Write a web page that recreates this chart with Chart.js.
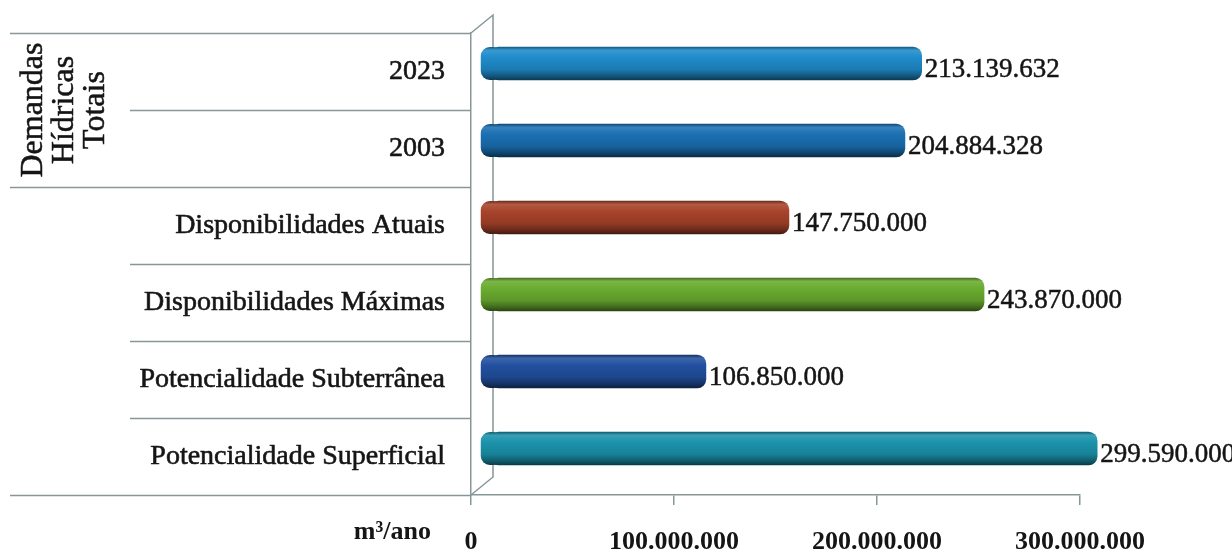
<!DOCTYPE html>
<html>
<head>
<meta charset="utf-8">
<script src="https://cdn.jsdelivr.net/npm/chart.js@4.4.1/dist/chart.umd.min.js"></script>
<style>
  html, body { margin: 0; padding: 0; background: #ffffff; }
  #wrap { width: 1232px; height: 555px; }
</style>
</head>
<body>
<div id="wrap"><canvas id="c" width="1232" height="555"></canvas></div>
<script>
// Categories (top to bottom) and volumes in m³/ano
const categories = ['2023', '2003', 'Disponibilidades Atuais', 'Disponibilidades Máximas', 'Potencialidade Subterrânea', 'Potencialidade Superficial'];
const volumes = [213139632, 204884328, 147750000, 243870000, 106850000, 299590000];
const barColors = ['#1f8ccb', '#1b70b3', '#a8432b', '#6aac30', '#22509f', '#1b93ab'];
const xTicks = [0, 100000000, 200000000, 300000000];
const groupTitle = ['Demandas', 'Hídricas', 'Totais'];
const groupSize = 2;          // first two categories belong to the group title
const unitLabel = 'm³/ano';

const SERIF = '"Liberation Serif", "Times New Roman", serif';
const LINE = '#879797';
const TEXT = '#151515';
const DEPTH_X = 22, DEPTH_Y = 18;   // depth of the 3D wall
const BAR_DX = 18, BAR_DY = -8;     // bars sit inside the depth
const BAR_T = 33;
const CAP = 9;                      // rounded cylinder end reaching toward the wall

const fmt = v => String(Math.round(v)).replace(/\B(?=(\d{3})+(?!\d))/g, '.');

function shade(hex, f) {
  const n = parseInt(hex.slice(1), 16);
  let r = n >> 16, g = (n >> 8) & 255, b = n & 255;
  if (f < 0) { r *= 1 + f; g *= 1 + f; b *= 1 + f; }
  else { r += (255 - r) * f; g += (255 - g) * f; b += (255 - b) * f; }
  return `rgb(${r | 0},${g | 0},${b | 0})`;
}

// vertical shading that gives the bars a cylindrical look
function cylinderFill(ctx) {
  const base = barColors[ctx.dataIndex];
  const chart = ctx.chart;
  if (ctx.type !== 'data' || !chart.chartArea || !chart.scales.y) return base;
  const yc = chart.scales.y.getPixelForValue(ctx.dataIndex);
  const g = chart.ctx.createLinearGradient(0, yc - BAR_T / 2, 0, yc + BAR_T / 2);
  g.addColorStop(0, shade(base, -0.35));
  g.addColorStop(0.1, shade(base, 0.12));
  g.addColorStop(0.32, base);
  g.addColorStop(0.68, shade(base, -0.12));
  g.addColorStop(0.88, shade(base, -0.38));
  g.addColorStop(1, shade(base, -0.6));
  return g;
}

const framePlugin = {
  id: 'frame',
  beforeDatasetsDraw(chart) {
    const { ctx, chartArea: a } = chart;
    ctx.save();
    ctx.strokeStyle = LINE;
    ctx.lineWidth = 1.5;
    // table lines beside the category labels
    const n = categories.length;
    const step = (a.bottom - a.top) / n;
    for (let i = 0; i <= n; i++) {
      const yy = Math.round(a.top + i * step) + 0.5;
      const full = i === 0 || i === groupSize || i === n;
      ctx.beginPath();
      ctx.moveTo(full ? 10 : 130, yy);
      ctx.lineTo(a.left, yy);
      ctx.stroke();
    }
    // back wall and its connections to the front axes
    const bx = a.left + DEPTH_X;
    ctx.beginPath();
    ctx.moveTo(a.left, a.top);
    ctx.lineTo(bx, a.top - DEPTH_Y);
    ctx.lineTo(bx, a.bottom - DEPTH_Y);
    ctx.lineTo(a.left, a.bottom);
    ctx.stroke();
    ctx.restore();

    ctx.save();
    ctx.translate(BAR_DX, BAR_DY);
    // rounded left ends of the cylinders, under each bar
    chart.getDatasetMeta(0).data.forEach(el => {
      ctx.fillStyle = el.options.backgroundColor;
      ctx.beginPath();
      ctx.roundRect(el.base - CAP, el.y - BAR_T / 2, CAP * 2 + 4, BAR_T, 9);
      ctx.fill();
    });
  },
  afterDatasetsDraw(chart) {
    const { ctx } = chart;
    ctx.restore();
    // value labels at the end of each bar
    const meta = chart.getDatasetMeta(0);
    ctx.save();
    ctx.fillStyle = TEXT;
    ctx.strokeStyle = TEXT;
    ctx.lineWidth = 0.5;
    ctx.font = '27px ' + SERIF;
    ctx.textAlign = 'left';
    ctx.textBaseline = 'middle';
    meta.data.forEach((el, i) => {
      const s = fmt(volumes[i]);
      ctx.fillText(s, el.x + BAR_DX + 3, el.y - 2);
      ctx.strokeText(s, el.x + BAR_DX + 3, el.y - 2);
    });
    ctx.restore();
  },
  afterDraw(chart) {
    const { ctx, chartArea: a, scales: { y } } = chart;
    ctx.save();
    ctx.fillStyle = TEXT;
    ctx.strokeStyle = TEXT;
    ctx.lineWidth = 0.5;
    // rotated group title
    const yc = (y.getPixelForValue(0) + y.getPixelForValue(groupSize - 1)) / 2;
    ctx.font = '32px ' + SERIF;
    ctx.textAlign = 'center';
    ctx.textBaseline = 'alphabetic';
    groupTitle.forEach((t, i) => {
      ctx.save();
      ctx.translate(42 + i * 31, yc);
      ctx.rotate(-Math.PI / 2);
      ctx.fillText(t, 0, 0);
      ctx.strokeText(t, 0, 0);
      ctx.restore();
    });
    // unit label
    ctx.font = 'bold 26px ' + SERIF;
    ctx.textAlign = 'right';
    ctx.textBaseline = 'middle';
    ctx.fillText(unitLabel, a.left - 40, a.bottom + 37);
    ctx.restore();
  }
};

new Chart(document.getElementById('c'), {
  type: 'bar',
  data: {
    labels: categories,
    datasets: [{
      data: volumes,
      backgroundColor: cylinderFill,
      borderWidth: 0,
      borderRadius: 9,
      borderSkipped: false,
      barThickness: BAR_T,
      clip: false
    }]
  },
  options: {
    indexAxis: 'y',
    responsive: false,
    animation: false,
    devicePixelRatio: 1,
    layout: { padding: { top: 33, right: 152, left: 0, bottom: 0 } },
    plugins: { legend: { display: false }, tooltip: { enabled: false } },
    scales: {
      x: {
        type: 'linear',
        min: 0,
        max: 300000000,
        afterBuildTicks: s => { s.ticks = xTicks.map(v => ({ value: v })); },
        afterFit: s => { s.height = 60; },
        ticks: {
          callback: v => fmt(v),
          font: { family: SERIF, size: 26, weight: 'bold' },
          color: TEXT,
          padding: 22,
          maxRotation: 0
        },
        grid: { drawOnChartArea: false, drawTicks: true, tickLength: 10, color: LINE, lineWidth: 1.5 },
        border: { display: true, color: LINE, width: 1.5 }
      },
      y: {
        type: 'category',
        afterFit: s => { s.width = 471; s.paddingTop = 0; s.paddingBottom = 0; },
        ticks: {
          font: { family: SERIF, size: 28 },
          color: TEXT,
          textStrokeColor: TEXT,
          textStrokeWidth: 0.6,
          padding: 18
        },
        grid: { display: false },
        border: { display: true, color: LINE, width: 1.5 }
      }
    }
  },
  plugins: [framePlugin]
});
</script>
</body>
</html>
